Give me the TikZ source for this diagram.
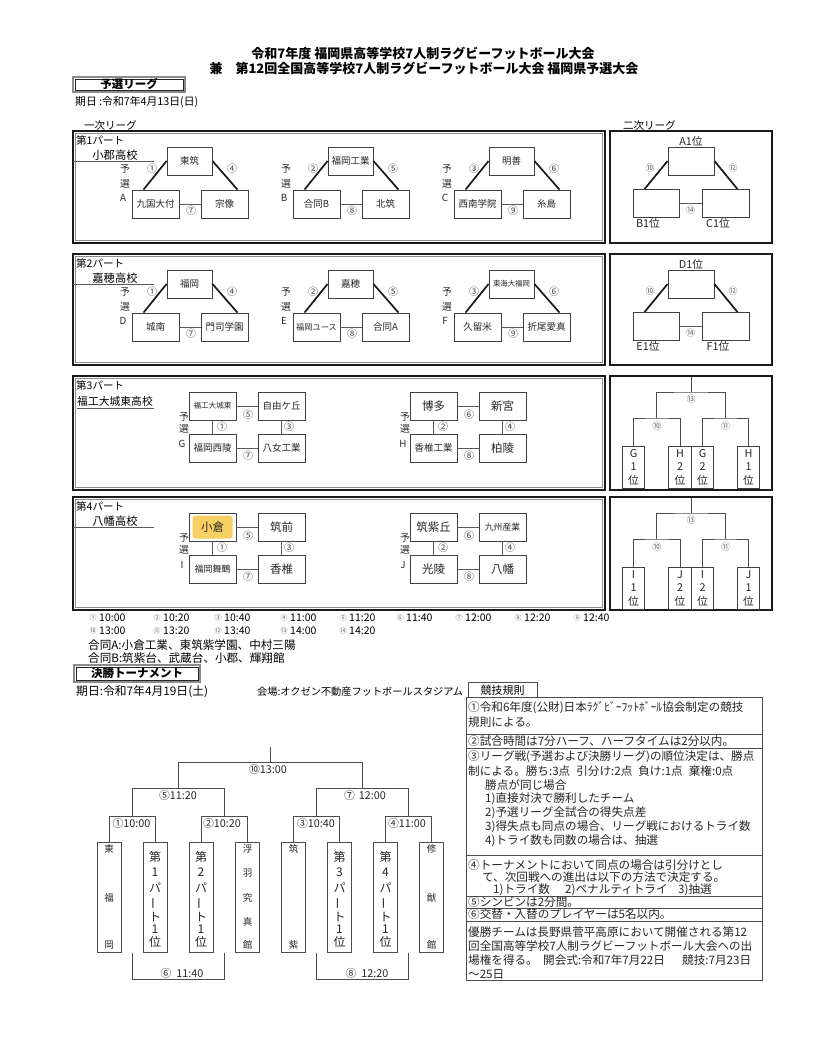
\documentclass[tikz,border=0pt]{standalone}
\usepackage{fontspec}
\setmainfont{Noto Sans CJK JP}
\usetikzlibrary{calc}
\newcommand\fs[1]{\fontsize{#1}{#1}\selectfont}
\definecolor{hilite}{RGB}{246,208,98}

% triangle group: id, x(top box left), ty(part top), top, bottom-left, bottom-right, n1, n2, n3
\newcommand\trigroup[9]{%
 \node[team, minimum width=45pt] (#1t) at (#2+22.5,#3+30) {#4};
 \node[team] (#1l) at (#2-11.5,#3+73) {#5};
 \node[team] (#1r) at (#2+57.5,#3+73) {#6};
 \draw[dia] (#1t.west) -- ($(#1l.north west)+(12,0)$);
 \draw[dia] (#1t.east) -- ($(#1r.north east)+(-11,0)$);
 \draw[lnk] (#1l.east) -- (#1r.west);
 \node[num] (#1n1) at (#2-15,#3+38) {#7};
 \node[num] (#1n2) at (#2+65,#3+38) {#8};
 \node[num] (#1n3) at (#2+24,#3+80) {#9};
 \node[lbl] (#1y1) at (#2-42,#3+38) {予};
 \node[lbl] (#1y2) at (#2-42,#3+53) {選};
 \node[lbl] (#1y3) at (#2-44,#3+67) {#1};
}
% square group: id, x(TL left), ty, tl, tr, bl, br, {top}{left}{right}{bottom}
\newcommand\sqnums[4]{%
 \node[num] at (\gx+59,\gy+39) {#1};
 \node[num] at (\gx+33,\gy+51) {#2};
 \node[num] at (\gx+100,\gy+51) {#3};
 \node[num] at (\gx+59,\gy+80) {#4};
}
\newcommand\sqgroup[8]{%
 \node[team] (#1a) at (#2+23.5,#3+30) {#4};
 \node[team] (#1b) at (#2+92.5,#3+30) {#5};
 \node[team] (#1c) at (#2+23.5,#3+72) {#6};
 \node[team] (#1d) at (#2+92.5,#3+72) {#7};
 \draw[lnk] (#1a.east) -- (#1b.west);
 \draw[lnk] (#1c.east) -- (#1d.west);
 \draw[lnk] (#1a.south) -- (#1c.north);
 \draw[lnk] (#1b.south) -- (#1d.north);
 \def\gx{#2}\def\gy{#3}%
 \sqnums#8%
 \node[lbl] (#1y1) at (#2-5,#3+41) {予};
 \node[lbl] (#1y2) at (#2-5,#3+53) {選};
 \node[lbl] (#1y3) at (#2-7,#3+68) {#1};
}
% second league triangle: id, ty, labels
\newcommand\sltri[5]{%
 \node[team, minimum width=46pt] (#1t) at (691,#2+30) {};
 \node[team, minimum width=46pt] (#1l) at (656,#2+72.5) {};
 \node[team, minimum width=47pt] (#1r) at (725.5,#2+72.5) {};
 \node[lbl, font=\fs{10.8}] (#1tl) at (691,#2+10) {#3};
 \node[lbl, font=\fs{10.8}] (#1ll) at (648,#2+92) {#4};
 \node[lbl, font=\fs{10.8}] (#1rl) at (718,#2+92) {#5};
 \draw[dia] (#1t.west) -- ($(#1l.north west)+(12,0)$);
 \draw[dia] (#1t.east) -- ($(#1r.north east)+(-12,0)$);
 \draw[lnk] (#1l.east) -- (#1r.west);
 \node[snum] (#1n1) at (650,#2+37) {⑩};
 \node[snum] (#1n2) at (733,#2+37) {⑫};
 \node[snum] (#1n3) at (690.5,#2+79) {⑭};
}
% second league bracket: ty, then letter/digit for 4 boxes
\newcommand\slbr[9]{%
 \node[rbox] (r#1a) at (633.5,#1+91) {};
 \node[rbox] (r#1b) at (680,#1+91) {};
 \node[rbox] (r#1c) at (702.5,#1+91) {};
 \node[rbox] (r#1d) at (748.5,#1+91) {};
 \node[lbl,font=\fs{10.8}] at (633.5,#1+78) {#2};
 \node[lbl,font=\fs{10.8}] at (633.5,#1+91) {#3};
 \node[lbl,font=\fs{10.8}] at (633.5,#1+104) {位};
 \node[lbl,font=\fs{10.8}] at (680,#1+78) {#4};
 \node[lbl,font=\fs{10.8}] at (680,#1+91) {#5};
 \node[lbl,font=\fs{10.8}] at (680,#1+104) {位};
 \node[lbl,font=\fs{10.8}] at (702.5,#1+78) {#6};
 \node[lbl,font=\fs{10.8}] at (702.5,#1+91) {#7};
 \node[lbl,font=\fs{10.8}] at (702.5,#1+104) {位};
 \node[lbl,font=\fs{10.8}] at (748.5,#1+78) {#8};
 \node[lbl,font=\fs{10.8}] at (748.5,#1+91) {#9};
 \node[lbl,font=\fs{10.8}] at (748.5,#1+104) {位};
 \coordinate (r#1m1) at (656.75,#1+42);
 \coordinate (r#1m2) at (725.5,#1+42);
 \coordinate (r#1mt) at (691.1,#1+16);
 \coordinate (r#1top) at (691.1,#1+1);
 \draw[brk] (r#1a.north) |- (r#1m1) -| (r#1b.north);
 \draw[brk] (r#1c.north) |- (r#1m2) -| (r#1d.north);
 \draw[brk] (r#1m1) |- (r#1mt) -| (r#1m2);
 \draw[brk] (r#1mt) -- (r#1top);
 \node[snum] at (691.1,#1+23) {⑬};
 \node[snum] at (656.75,#1+50) {⑩};
 \node[snum] at (725.5,#1+50) {⑪};
}
\newcommand\vpart[2]{%
 \node[vch] at (#1,857) {第};
 \node[vch] at (#1,872) {#2};
 \node[vch] at (#1,888) {パ};
 \node[vch, rotate=90] at (#1,903) {ー};
 \node[vch] at (#1,917) {ト};
 \node[vch] at (#1,929.5) {1};
 \node[vch] at (#1,941.5) {位};
}

\begin{document}
\begin{tikzpicture}[x=1pt,y=-1pt,
 team/.style={draw=black!75, line width=0.9pt, minimum width=47pt, minimum height=28pt, inner sep=0pt, text=black!85, font=\fs{9.5}},
 rbox/.style={draw=black!75, line width=0.9pt, minimum width=22.5pt, minimum height=42pt, inner sep=0pt},
 lnk/.style={draw=black!65, line width=0.9pt},
 dia/.style={draw=black!90, line width=1.7pt},
 num/.style={inner sep=0pt, font=\fs{10}, text=black!75},
 snum/.style={inner sep=0pt, font=\fs{9}, text=black!60},
 lbl/.style={inner sep=0pt, font=\fs{9.8}, text=black!85},
 part/.style={draw=black!90, line width=1.7pt},
 partin/.style={draw=black!45, line width=0.5pt},
 brk/.style={draw=black!70, line width=0.9pt},
 rl/.style={draw=black!70, line width=0.9pt},
 rt/.style={anchor=west, inner sep=0pt, font=\fs{11.6}, text=black!85},
 tl/.style={inner sep=0pt, font=\fs{10.8}, text=black!85},
 vch/.style={inner sep=0pt, font=\fs{12}, text=black!85},
 vsm/.style={inner sep=0pt, font=\fs{9.5}, text=black!85},
]
\useasboundingbox[fill=white] (0,0) rectangle (828,1061);

% titles
\node[font={\bfseries\fs{13}}] (title1) at (423,53) {令和7年度 福岡県高等学校7人制ラグビーフットボール大会};
\node[font={\bfseries\fs{13}}] (title2) at (424,68) {兼　第12回全国高等学校7人制ラグビーフットボール大会 福岡県予選大会};

% yosen league header
\draw[draw=black!45, line width=2pt] (73,77) rectangle (185,92);
\draw[draw=black!85, line width=0.5pt] (74.8,78.8) rectangle (183.2,90.2);
\node[font={\bfseries\fs{11.5}}] (yosen) at (129,84.5) {予選リーグ};
\node[anchor=west, inner sep=0pt, font=\fs{10.8}] (date1) at (75,101.5) {期日 :令和7年4月13日(日)};
\node[anchor=west, inner sep=0pt, font=\fs{10.5}] (ichiji) at (84,126) {一次リーグ};
\node[anchor=west, inner sep=0pt, font=\fs{10.5}] (niji) at (623,126) {二次リーグ};

% part frames
\foreach \t/\b in {131/243,254/365,376/490,497/610}{
 \draw[part] (73,\t) rectangle (605,\b);
 \draw[partin] (75.5,\t+2.5) rectangle (602.5,\b-2.5);
 \draw[part] (610,\t) rectangle (772,\b);
}

% part titles
\node[anchor=west, inner sep=0pt, font=\fs{10.5}] (p1a) at (76,140) {第1パート};
\node[inner sep=0pt, font=\fs{11.3}] (p1b) at (115,155) {小郡高校};
\draw[lnk] (73,161.5) -- (154,161.5);
\node[anchor=west, inner sep=0pt, font=\fs{10.5}] (p2a) at (76,263) {第2パート};
\node[inner sep=0pt, font=\fs{11.3}] (p2b) at (115,278) {嘉穂高校};
\draw[lnk] (73,284.5) -- (154,284.5);
\node[anchor=west, inner sep=0pt, font=\fs{10.5}] (p3a) at (76,385) {第3パート};
\node[anchor=west, inner sep=0pt, font=\fs{10.8}] (p3b) at (77,401) {福工大城東高校};
\draw[lnk] (77,408) -- (154,408);
\node[anchor=west, inner sep=0pt, font=\fs{10.5}] (p4a) at (76,506) {第4パート};
\node[inner sep=0pt, font=\fs{11.3}] (p4b) at (115,521) {八幡高校};
\draw[lnk] (73,527.5) -- (154,527.5);

% part 1 and 2
\trigroup{A}{167}{131}{東筑}{九国大付}{宗像}{①}{④}{⑦}
\trigroup{B}{328}{131}{福岡工業}{合同B}{北筑}{②}{⑤}{⑧}
\trigroup{C}{489}{131}{明善}{西南学院}{糸島}{③}{⑥}{⑨}
\trigroup{D}{167}{254}{福岡}{城南}{門司学園}{①}{④}{⑦}
\trigroup{E}{328}{254}{嘉穂}{\fs{8.2}福岡ユース}{合同A}{②}{⑤}{⑧}
\trigroup{F}{489}{254}{\fs{7.4}東海大福岡}{久留米}{折尾愛真}{③}{⑥}{⑨}

% part 3 and 4
\sqgroup{G}{189}{376}{\fs{7.6}福工大城東}{自由ケ丘}{福岡西陵}{八女工業}{{⑤}{①}{③}{⑦}}
\sqgroup{H}{410}{376}{\fs{11.5}博多}{\fs{11.5}新宮}{香椎工業}{\fs{11.5}柏陵}{{⑥}{②}{④}{⑧}}
\fill[hilite, rounded corners=3pt] (192.5,515.5) rectangle (232.5,538.5);
\sqgroup{I}{189}{497}{\fs{11.5}小倉}{\fs{11.5}筑前}{\fs{9}福岡舞鶴}{\fs{11.5}香椎}{{⑤}{①}{③}{⑦}}
\sqgroup{J}{410}{497}{\fs{11.5}筑紫丘}{\fs{8.8}九州産業}{\fs{11.5}光陵}{\fs{11.5}八幡}{{⑥}{②}{④}{⑧}}

% second league
\sltri{S1}{131}{A1位}{B1位}{C1位}
\sltri{S2}{254}{D1位}{E1位}{F1位}
\slbr{376}{G}{1}{H}{2}{G}{2}{H}{1}
\slbr{497}{I}{1}{J}{2}{I}{2}{J}{1}

% timetable
\foreach \n/\x/\tm [count=\i] in {①/93/10:00,②/157/10:20,③/218/10:40,④/284/11:00,⑤/343/11:20,⑥/400/11:40,⑦/459/12:00,⑧/518/12:20,⑨/577/12:40}{
 \node[inner sep=0pt, font=\fs{7}, text=black!60] (tc\i) at (\x,618) {\n};
 \node[anchor=west, inner sep=0pt, font=\fs{10.5}] (tt\i) at (\x+6,618) {\tm};
}
\foreach \n/\x/\tm [count=\i] in {⑩/93/13:00,⑪/157/13:20,⑫/218/13:40,⑬/284/14:00,⑭/343/14:20}{
 \node[inner sep=0pt, font=\fs{7}, text=black!60] (td\i) at (\x,631) {\n};
 \node[anchor=west, inner sep=0pt, font=\fs{10.5}] (tu\i) at (\x+6,631) {\tm};
}
\node[anchor=west, inner sep=0pt, font=\fs{11.6}] (goA) at (88,645) {合同A:小倉工業、東筑紫学園、中村三陽};
\node[anchor=west, inner sep=0pt, font=\fs{11.6}] (goB) at (88,658) {合同B:筑紫台、武蔵台、小郡、輝翔館};

% final tournament header
\draw[draw=black!45, line width=2pt] (74,665) rectangle (200,682);
\draw[draw=black!85, line width=0.5pt] (75.8,666.8) rectangle (198.2,680.2);
\node[font={\bfseries\fs{11.5}}] (kessho) at (137,673.5) {決勝トーナメント};
\node[anchor=west, inner sep=0pt, font=\fs{11.8}] (date2) at (76,692) {期日:令和7年4月19日(土)};
\node[anchor=west, inner sep=0pt, font=\fs{10.2}] (venue) at (257,692) {会場:オクゼン不動産フットボールスタジアム};

% tournament boxes
\foreach \i/\x in {1/109,2/155,3/201,4/247.5,5/293.5,6/339.5,7/385.5,8/431.5}
 \node[draw=black!70, line width=0.9pt, minimum width=24pt, minimum height=110pt, inner sep=0pt] (t\i) at (\x,897) {};
\node[vsm] at (109,849) {東};
\node[vsm] at (109,898) {福};
\node[vsm] at (109,945) {岡};
\vpart{155}{1}
\vpart{201}{2}
\foreach \c/\y in {浮/849,羽/873,究/898,真/922,館/945} \node[vsm] at (247.5,\y) {\c};
\node[vsm] at (293.5,849) {筑};
\node[vsm] at (293.5,945) {紫};
\vpart{339.5}{3}
\vpart{385.5}{4}
\node[vsm] at (431.5,849) {修};
\node[vsm] at (431.5,898) {猷};
\node[vsm] at (431.5,945) {館};

% bracket
\coordinate (m12) at (132,816);
\coordinate (m34) at (224.25,816);
\coordinate (m56) at (316.5,816);
\coordinate (m78) at (408.5,816);
\coordinate (s1) at (178.1,788);
\coordinate (s2) at (362.5,788);
\coordinate (fin) at (270.3,762);
\coordinate (ftop) at (270.3,747);
\draw[brk] (t1.north) |- (m12) -| (t2.north);
\draw[brk] (t3.north) |- (m34) -| (t4.north);
\draw[brk] (t5.north) |- (m56) -| (t6.north);
\draw[brk] (t7.north) |- (m78) -| (t8.north);
\draw[brk] (m12) |- (s1) -| (m34);
\draw[brk] (m56) |- (s2) -| (m78);
\draw[brk] (s1) |- (fin) -| (s2);
\draw[brk] (fin) -- (ftop);
\coordinate (b1) at (132,953);
\coordinate (b2) at (224.25,953);
\coordinate (b3) at (316.5,953);
\coordinate (b4) at (408.5,953);
\coordinate (c1) at (178,979);
\coordinate (c2) at (362.5,979);
\draw[brk] (b1) |- (c1) -| (b2);
\draw[brk] (b3) |- (c2) -| (b4);
\node[tl] (l10) at (268,769) {⑩13:00};
\node[tl] (l5) at (178,795) {⑤11:20};
\node[tl] (l7) at (365,795) {⑦\hspace{4pt}12:00};
\node[tl] (l1) at (131.5,823) {①10:00};
\node[tl] (l2) at (222,823) {②10:20};
\node[tl] (l3) at (316,823) {③10:40};
\node[tl] (l4) at (407,823) {④11:00};
\node[tl] (l6) at (182,973) {⑥\hspace{5pt}11:40};
\node[tl] (l8) at (367,973) {⑧\hspace{5pt}12:20};

% rules
\draw[rl] (468,697) -- (468,682) -- (537,682) -- (537,697);
\node[inner sep=0pt, font=\fs{11}] (kyogi) at (502.5,690) {競技規則};
\draw[rl] (466,697) rectangle (762,980);
\foreach \y in {734,748,855,896,908,921} \draw[rl] (466,\y) -- (762,\y);
\node[rt] at (468,708) {①令和6年度(公財)日本ﾗｸﾞﾋﾞｰﾌｯﾄﾎﾞｰﾙ協会制定の競技};
\node[rt] at (468,722) {規則による。};
\node[rt] at (468,741) {②試合時間は7分ハーフ、ハーフタイムは2分以内。};
\node[rt] at (468,757) {③リーグ戦(予選および決勝リーグ)の順位決定は、勝点};
\node[rt] at (468,771) {制による。勝ち:3点\hspace{6pt}引分け:2点\hspace{6pt}負け:1点\hspace{6pt}棄権:0点};
\node[rt] at (485,785) {勝点が同じ場合};
\node[rt] at (485,799) {1)直接対決で勝利したチーム};
\node[rt] at (485,813) {2)予選リーグ全試合の得失点差};
\node[rt] at (485,827) {3)得失点も同点の場合、リーグ戦におけるトライ数};
\node[rt] at (485,841) {4)トライ数も同数の場合は、抽選};
\node[rt] at (468,865) {④トーナメントにおいて同点の場合は引分けとし};
\node[rt] at (482,877.5) {て、次回戦への進出は以下の方法で決定する。};
\node[rt] at (493,890) {1)トライ数};
\node[rt] at (565,890) {2)ペナルティトライ};
\node[rt] at (678,890) {3)抽選};
\node[rt] at (468,902) {⑤シンビンは2分間。};
\node[rt] at (468,914.5) {⑥交替・入替のプレイヤーは5名以内。};
\node[rt] at (468,932) {優勝チームは長野県菅平高原において開催される第12};
\node[rt] at (468,946) {回全国高等学校7人制ラグビーフットボール大会への出};
\node[rt] at (468,960) {場権を得る。};
\node[rt] at (543,960) {開会式:令和7年7月22日};
\node[rt] at (682,960) {競技:7月23日};
\node[rt] at (468,974) {〜25日};
\end{tikzpicture}
\end{document}
